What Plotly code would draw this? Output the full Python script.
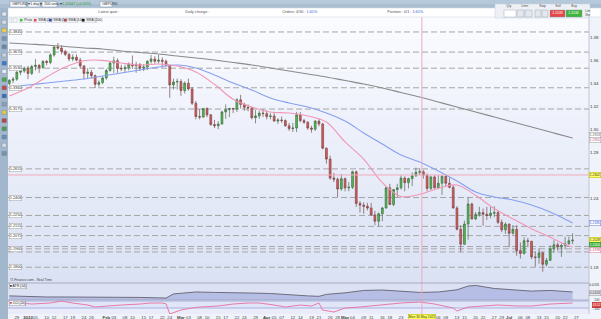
import numpy as np
import plotly.graph_objects as go

# ---------------- data ----------------
dates = ['2021-12-27','2021-12-28','2021-12-29','2021-12-30','2021-12-31',
 '2022-01-03','2022-01-04','2022-01-05','2022-01-06','2022-01-07','2022-01-10','2022-01-11','2022-01-12','2022-01-13','2022-01-14',
 '2022-01-17','2022-01-18','2022-01-19','2022-01-20','2022-01-21','2022-01-24','2022-01-25','2022-01-26','2022-01-27','2022-01-28','2022-01-31',
 '2022-02-01','2022-02-02','2022-02-03','2022-02-04','2022-02-07','2022-02-08','2022-02-09','2022-02-10','2022-02-11','2022-02-14',
 '2022-02-15','2022-02-16','2022-02-17','2022-02-18','2022-02-21','2022-02-22','2022-02-23','2022-02-24','2022-02-25','2022-02-28',
 '2022-03-01','2022-03-02','2022-03-03','2022-03-04','2022-03-07','2022-03-08','2022-03-09','2022-03-10','2022-03-11','2022-03-14',
 '2022-03-15','2022-03-16','2022-03-17','2022-03-18','2022-03-21','2022-03-22','2022-03-23','2022-03-24','2022-03-25','2022-03-28',
 '2022-03-29','2022-03-30','2022-03-31',
 '2022-04-01','2022-04-04','2022-04-05','2022-04-06','2022-04-07','2022-04-08','2022-04-11','2022-04-12','2022-04-13','2022-04-14',
 '2022-04-15','2022-04-18','2022-04-19','2022-04-20','2022-04-21','2022-04-22','2022-04-25','2022-04-26','2022-04-27','2022-04-28','2022-04-29',
 '2022-05-02','2022-05-03','2022-05-04','2022-05-05','2022-05-06','2022-05-09','2022-05-10','2022-05-11','2022-05-12','2022-05-13',
 '2022-05-16','2022-05-17','2022-05-18','2022-05-19','2022-05-20','2022-05-23','2022-05-24','2022-05-25','2022-05-26','2022-05-27',
 '2022-05-30','2022-05-31',
 '2022-06-01','2022-06-02','2022-06-03','2022-06-06','2022-06-07','2022-06-08','2022-06-09','2022-06-10','2022-06-13','2022-06-14',
 '2022-06-15','2022-06-16','2022-06-17','2022-06-20','2022-06-21','2022-06-22','2022-06-23','2022-06-24','2022-06-27','2022-06-28',
 '2022-06-29','2022-06-30',
 '2022-07-01','2022-07-04','2022-07-05','2022-07-06','2022-07-07','2022-07-08','2022-07-11','2022-07-12','2022-07-13','2022-07-14',
 '2022-07-15','2022-07-18','2022-07-19','2022-07-20','2022-07-21','2022-07-22','2022-07-25','2022-07-26']

opens = [1.3395,1.3425,1.3435,1.3495,1.3505,
 1.3530,1.3485,1.3545,1.3555,1.3535,1.3590,1.3580,1.3645,1.3715,1.3705,
 1.3675,1.3650,1.3610,1.3625,1.3600,1.3550,1.3485,1.3495,1.3465,1.3390,1.3405,
 1.3445,1.3510,1.3575,1.3595,1.3530,1.3525,1.3535,1.3565,1.3550,1.3560,
 1.3530,1.3540,1.3590,1.3610,1.3590,1.3600,1.3590,1.3555,1.3385,1.3410,
 1.3415,1.3335,1.3400,1.3350,1.3225,1.3110,1.3105,1.3180,1.3125,1.3040,
 1.3030,1.3045,1.3150,1.3170,1.3180,1.3175,1.3255,1.3215,1.3190,1.3185,
 1.3100,1.3115,1.3140,
 1.3135,1.3110,1.3115,1.3070,1.3080,1.3075,1.3030,1.3005,1.3010,1.3125,
 1.3075,1.3060,1.3010,1.3000,1.3070,1.3045,1.2835,1.2740,1.2575,1.2565,1.2480,
 1.2570,1.2490,1.2495,1.2630,1.2355,1.2340,1.2330,1.2315,1.2255,1.2200,
 1.2265,1.2315,1.2490,1.2345,1.2475,1.2490,1.2575,1.2535,1.2570,1.2595,
 1.2625,1.2630,
 1.2600,1.2485,1.2585,1.2490,1.2530,1.2590,1.2530,1.2495,1.2315,1.2130,
 1.2000,1.2175,1.2350,1.2220,1.2260,1.2275,1.2260,1.2250,1.2270,1.2275,
 1.2190,1.2125,
 1.2175,1.2095,1.2130,1.1945,1.1920,1.2030,1.2025,1.1890,1.1885,1.1925,
 1.1825,1.1860,1.1960,1.1995,1.1975,1.1990,1.2005,1.2030]

highs = [1.3435,1.3455,1.3505,1.3525,1.3545,
 1.3550,1.3560,1.3610,1.3565,1.3600,1.3600,1.3660,1.3720,1.3749,1.3730,
 1.3690,1.3665,1.3650,1.3650,1.3620,1.3555,1.3530,1.3515,1.3475,1.3425,1.3460,
 1.3525,1.3590,1.3630,1.3615,1.3560,1.3560,1.3580,1.3640,1.3585,1.3575,
 1.3565,1.3600,1.3645,1.3635,1.3645,1.3625,1.3605,1.3560,1.3440,1.3440,
 1.3435,1.3415,1.3440,1.3365,1.3245,1.3175,1.3185,1.3190,1.3130,1.3080,
 1.3070,1.3160,1.3215,1.3185,1.3185,1.3270,1.3298,1.3230,1.3215,1.3190,
 1.3165,1.3160,1.3175,
 1.3165,1.3140,1.3150,1.3095,1.3110,1.3085,1.3055,1.3055,1.3150,1.3150,
 1.3090,1.3070,1.3030,1.3080,1.3090,1.3055,1.2840,1.2770,1.2620,1.2580,1.2610,
 1.2580,1.2540,1.2640,1.2640,1.2375,1.2365,1.2360,1.2360,1.2290,1.2275,
 1.2325,1.2500,1.2525,1.2480,1.2525,1.2600,1.2590,1.2580,1.2625,1.2666,
 1.2660,1.2645,
 1.2615,1.2595,1.2600,1.2600,1.2600,1.2600,1.2580,1.2510,1.2330,1.2165,
 1.2205,1.2406,1.2360,1.2280,1.2325,1.2310,1.2325,1.2325,1.2330,1.2290,
 1.2215,1.2190,
 1.2180,1.2165,1.2165,1.2015,1.2060,1.2055,1.2030,1.1935,1.1965,1.1935,
 1.1880,1.1990,1.2035,1.2015,1.2005,1.2065,1.2065,1.2095]

lows = [1.3385,1.3400,1.3420,1.3470,1.3490,
 1.3435,1.3470,1.3510,1.3490,1.3525,1.3555,1.3565,1.3630,1.3690,1.3650,
 1.3635,1.3590,1.3590,1.3590,1.3530,1.3435,1.3445,1.3440,1.3358,1.3370,1.3390,
 1.3430,1.3500,1.3490,1.3490,1.3505,1.3490,1.3510,1.3525,1.3490,1.3505,
 1.3505,1.3515,1.3570,1.3570,1.3570,1.3535,1.3545,1.3272,1.3345,1.3345,
 1.3290,1.3310,1.3335,1.3210,1.3085,1.3085,1.3100,1.3105,1.3030,1.3010,
 1.3000,1.3040,1.3090,1.3105,1.3140,1.3150,1.3180,1.3160,1.3155,1.3085,
 1.3050,1.3090,1.3105,
 1.3085,1.3085,1.3065,1.3045,1.3055,1.3020,1.2985,1.2975,1.2975,1.3060,
 1.3045,1.2995,1.2970,1.2985,1.3025,1.2825,1.2700,1.2560,1.2540,1.2411,1.2465,
 1.2460,1.2460,1.2480,1.2325,1.2275,1.2265,1.2295,1.2250,1.2165,1.2155,
 1.2200,1.2310,1.2340,1.2330,1.2410,1.2475,1.2460,1.2485,1.2505,1.2585,
 1.2600,1.2570,
 1.2460,1.2470,1.2485,1.2485,1.2430,1.2505,1.2485,1.2310,1.2120,1.1933,
 1.1995,1.2040,1.2215,1.2210,1.2240,1.2160,1.2210,1.2225,1.2235,1.2175,
 1.2105,1.2090,
 1.1975,1.2085,1.1900,1.1875,1.1910,1.1975,1.1870,1.1805,1.1830,1.1760,
 1.1805,1.1855,1.1925,1.1945,1.1890,1.1955,1.1995,1.2000]

closes = [1.3425,1.3435,1.3495,1.3505,1.3530,
 1.3485,1.3545,1.3555,1.3535,1.3590,1.3580,1.3645,1.3715,1.3705,1.3675,
 1.3650,1.3610,1.3625,1.3600,1.3550,1.3485,1.3495,1.3465,1.3390,1.3405,1.3445,
 1.3510,1.3575,1.3595,1.3530,1.3525,1.3535,1.3565,1.3550,1.3560,1.3530,
 1.3540,1.3590,1.3610,1.3590,1.3600,1.3590,1.3555,1.3385,1.3410,1.3415,
 1.3335,1.3400,1.3350,1.3225,1.3110,1.3105,1.3180,1.3125,1.3040,1.3030,
 1.3045,1.3150,1.3170,1.3180,1.3175,1.3255,1.3215,1.3190,1.3185,1.3100,
 1.3115,1.3140,1.3135,
 1.3110,1.3115,1.3070,1.3080,1.3075,1.3030,1.3005,1.3010,1.3125,1.3075,
 1.3060,1.3010,1.3000,1.3070,1.3045,1.2835,1.2740,1.2575,1.2565,1.2480,1.2570,
 1.2490,1.2495,1.2630,1.2355,1.2340,1.2330,1.2315,1.2255,1.2200,1.2265,
 1.2315,1.2490,1.2345,1.2475,1.2490,1.2575,1.2535,1.2570,1.2595,1.2625,
 1.2630,1.2600,
 1.2485,1.2585,1.2490,1.2530,1.2590,1.2530,1.2495,1.2315,1.2130,1.2000,
 1.2175,1.2350,1.2220,1.2260,1.2275,1.2260,1.2250,1.2270,1.2275,1.2190,
 1.2125,1.2175,
 1.2095,1.2130,1.1945,1.1920,1.2030,1.2025,1.1890,1.1885,1.1925,1.1825,
 1.1860,1.1960,1.1995,1.1975,1.1990,1.2005,1.2030,1.2035]

ma_dates = ['2021-12-27','2022-01-03','2022-01-10','2022-01-17','2022-01-24','2022-01-31','2022-02-07','2022-02-14',
 '2022-02-21','2022-02-28','2022-03-07','2022-03-14','2022-03-21','2022-03-28','2022-04-04','2022-04-11','2022-04-18',
 '2022-04-25','2022-05-02','2022-05-09','2022-05-16','2022-05-23','2022-05-30','2022-06-06','2022-06-13','2022-06-20',
 '2022-06-27','2022-07-04','2022-07-11','2022-07-18','2022-07-25','2022-07-26']
sma20 = [1.3288,1.3358,1.3454,1.3540,1.3595,1.3598,1.3575,1.3558,1.3567,1.3549,1.3497,1.3390,1.3260,1.3193,1.3149,1.3141,
 1.3115,1.3062,1.2889,1.2740,1.2535,1.2415,1.2435,1.2485,1.2515,1.2425,1.2310,1.2220,1.2135,1.2060,1.1985,1.1978]
sma50 = [1.3367,1.3384,1.3401,1.3419,1.3436,1.3462,1.3488,1.3514,1.3540,1.3558,1.3532,1.3471,1.3401,1.3341,1.3271,1.3228,
 1.3193,1.3141,1.3071,1.2967,1.2871,1.2776,1.2715,1.2637,1.2550,1.2454,1.2411,1.2385,1.2341,1.2280,1.2202,1.2185]
sma200 = [1.3749,1.3740,1.3732,1.3719,1.3706,1.3697,1.3680,1.3667,1.3654,1.3636,1.3619,1.3601,1.3580,1.3558,1.3532,1.3506,
 1.3480,1.3454,1.3423,1.3393,1.3358,1.3319,1.3280,1.3236,1.3193,1.3149,1.3106,1.3062,1.3019,1.2975,1.2932,1.2923]

atr_dates = ['2021-12-27','2022-01-03','2022-01-10','2022-01-17','2022-01-24','2022-01-31','2022-02-07','2022-02-14',
 '2022-02-21','2022-02-23','2022-02-25','2022-02-28','2022-03-07','2022-03-14','2022-03-21','2022-03-28','2022-04-04',
 '2022-04-11','2022-04-18','2022-04-21','2022-04-25','2022-05-02','2022-05-09','2022-05-16','2022-05-23','2022-05-30',
 '2022-06-06','2022-06-13','2022-06-16','2022-06-20','2022-06-27','2022-07-04','2022-07-11','2022-07-18','2022-07-25','2022-07-26']
atr14 = [0.0085,0.0082,0.0080,0.0080,0.0080,0.0080,0.0080,0.0078,0.0076,0.0075,0.0094,0.0096,0.0103,0.0101,0.0098,0.0098,
 0.0096,0.0089,0.0085,0.0083,0.0092,0.0099,0.0110,0.0112,0.0107,0.0101,0.0103,0.0113,0.0130,0.0133,0.0119,0.0112,
 0.0107,0.0110,0.0103,0.0103]

cci_dates = ['2021-12-27','2022-01-04','2022-01-11','2022-01-14','2022-01-19','2022-01-25','2022-01-27','2022-02-01',
 '2022-02-07','2022-02-14','2022-02-17','2022-02-22','2022-02-23','2022-02-24','2022-03-01','2022-03-04','2022-03-08',
 '2022-03-15','2022-03-21','2022-03-25','2022-03-30','2022-04-05','2022-04-08','2022-04-14','2022-04-19','2022-04-21',
 '2022-04-22','2022-04-27','2022-05-02','2022-05-06','2022-05-11','2022-05-17','2022-05-23','2022-05-30','2022-06-03',
 '2022-06-10','2022-06-13','2022-06-16','2022-06-28','2022-07-05','2022-07-11','2022-07-18','2022-07-22','2022-07-26']
cci20 = [71,14,43,100,43,-14,-71,-43,-14,14,43,43,20,-270,-157,-100,-71,-43,14,43,43,-14,-71,-14,-43,43,
 -157,-214,-100,-71,-43,14,43,71,14,-100,-186,-71,-14,-43,-43,14,43,43]

level_prices = [1.3845,1.3670,1.3530,1.3360,1.3175,1.2655,1.2406,1.2250,1.2155,1.2075,1.1980,1.1960,1.1933,1.1800]
label_levels = [1.3845,1.3670,1.3530,1.3360,1.3175,1.2655,1.2406,1.2250,1.2155,1.2075,1.1960,1.1800]
label_texts = ['1.3845','1.3670','1.3530','1.3360','1.3175','1.2655','1.2406','1.2250','1.2155','1.2075','1.1960','1.1800']

# 1.20, 1.22 and 1.26 sit under the value boxes in the reference
price_ticks = [1.18,1.24,1.28,1.30,1.32,1.34,1.36,1.38]
price_tick_text = ['1.18','1.24','1.28','1.30','1.32','1.34','1.36','1.38']

tick_dates = ['2021-12-29','2022-01-03','2022-01-05','2022-01-10','2022-01-12','2022-01-17','2022-01-19','2022-01-24','2022-01-26',
 '2022-02-01','2022-02-03','2022-02-08','2022-02-10','2022-02-15','2022-02-17','2022-02-22','2022-02-24',
 '2022-03-01','2022-03-03','2022-03-08','2022-03-10','2022-03-15','2022-03-17','2022-03-22','2022-03-24','2022-03-29',
 '2022-04-01','2022-04-05','2022-04-07','2022-04-12','2022-04-14','2022-04-19','2022-04-21','2022-04-26','2022-04-28',
 '2022-05-02','2022-05-04','2022-05-09','2022-05-11','2022-05-16','2022-05-18','2022-05-23',
 '2022-06-06','2022-06-08','2022-06-13','2022-06-15','2022-06-20','2022-06-22','2022-06-27','2022-06-29',
 '2022-07-01','2022-07-06','2022-07-08','2022-07-13','2022-07-15','2022-07-20','2022-07-22','2022-07-27']
tick_text = ['29','<b>2022</b>','05','10','12','17','19','24','26',
 '<b>Feb</b>','03','08','10','15','17','22','24',
 '<b>Mar</b>','03','08','10','15','17','22','24','29',
 '<b>Apr</b>','05','07','12','14','19','21','26','28',
 '<b>May</b>','04','09','11','16','18','23',
 '06','08','13','15','20','22','27','29',
 '<b>Jul</b>','06','08','13','15','20','22','27']

crosshair_pos = 105.6
crosshair_price = 1.2602

# ---------------- geometry helpers ----------------
W, H = 601, 319
ML, MR, MT, MB = 8, 12, 17, 5
PW, PH = W - ML - MR, H - MT - MB
def px(x): return (x - ML) / PW
def py(y): return (H - MB - y) / PH
def pp(y): return 1.3749 - (y - 43) / 1151.0   # pixel row -> price (for label placement)

base = np.datetime64('2022-01-03')
def pos(ds):
    return np.busday_count(base, np.array(ds, dtype='datetime64[D]')).astype(float)

FONT = 'Liberation Sans'

fig = go.Figure()
fig.add_trace(go.Candlestick(
    x=pos(dates), open=opens, high=highs, low=lows, close=closes,
    increasing=dict(fillcolor='#3cc63c', line=dict(color='#4f6a4f', width=0.7)),
    decreasing=dict(fillcolor='#e05555', line=dict(color='#7a4c4c', width=0.7)),
    whiskerwidth=0, xaxis='x', yaxis='y', showlegend=False, hoverinfo='skip'))
fig.add_trace(go.Scatter(x=pos(ma_dates), y=sma200, mode='lines', line=dict(color='#8a8a8a', width=1.1, shape='spline'),
                         xaxis='x', yaxis='y', showlegend=False, hoverinfo='skip'))
fig.add_trace(go.Scatter(x=pos(ma_dates), y=sma50, mode='lines', line=dict(color='#86a0ee', width=1.1, shape='spline'),
                         xaxis='x', yaxis='y', showlegend=False, hoverinfo='skip'))
fig.add_trace(go.Scatter(x=pos(ma_dates), y=sma20, mode='lines', line=dict(color='#f296b6', width=1.1, shape='spline'),
                         xaxis='x', yaxis='y', showlegend=False, hoverinfo='skip'))
fig.add_trace(go.Scatter(x=pos(atr_dates), y=atr14, mode='lines', fill='tozeroy', fillcolor='#b6bee6',
                         line=dict(color='#6d6d7c', width=1), xaxis='x', yaxis='y2', showlegend=False, hoverinfo='skip'))
fig.add_trace(go.Scatter(x=pos(cci_dates), y=cci20, mode='lines', line=dict(color='#e87aa8', width=1),
                         xaxis='x', yaxis='y3', showlegend=False, hoverinfo='skip'))

def mix(c1, c2, t):
    a = [int(c1[i:i+2], 16) for i in (1, 3, 5)]
    b = [int(c2[i:i+2], 16) for i in (1, 3, 5)]
    return '#%02x%02x%02x' % tuple(int(round(a[k] + (b[k]-a[k])*t)) for k in range(3))

shapes = []
N = 24
for i in range(N):
    shapes.append(dict(type='rect', xref='x domain', yref='y domain', x0=0, x1=1, y0=i/N, y1=(i+1)/N,
                       fillcolor=mix('#dae1f4', '#fbfcff', (i+0.5)/N), line_width=0, layer='below'))
shapes.append(dict(type='rect', xref='x domain', yref='y2 domain', x0=0, x1=1, y0=0, y1=1,
                   fillcolor='#dde1f4', line_width=0, layer='below'))
shapes.append(dict(type='rect', xref='x domain', yref='y3 domain', x0=0, x1=1, y0=0, y1=1,
                   fillcolor='#eaedf9', line_width=0, layer='below'))
shapes.append(dict(type='rect', xref='x domain', yref='y3', x0=0, x1=1, y0=-100, y1=100,
                   fillcolor='#e1e5f8', line_width=0, layer='below'))
for v in (100, -100):
    shapes.append(dict(type='line', xref='x domain', yref='y3', x0=0, x1=1, y0=v, y1=v,
                       line=dict(color='#99a2da', width=0.8), layer='below'))
for p in level_prices:
    shapes.append(dict(type='line', xref='x domain', yref='y', x0=0, x1=1, y0=p, y1=p,
                       line=dict(color='#a6a6a6', width=1, dash='6px,3px'), layer='below'))
# crosshair
shapes.append(dict(type='line', xref='x', yref='paper', x0=crosshair_pos, x1=crosshair_pos, y0=py(316), y1=1,
                   line=dict(color='#f4a9bc', width=1)))
shapes.append(dict(type='line', xref='x domain', yref='y', x0=0, x1=1, y0=crosshair_price, y1=crosshair_price,
                   line=dict(color='#f4a9bc', width=1)))
# panel separators / borders
for yy in (283, 300):
    shapes.append(dict(type='line', xref='paper', yref='paper', x0=0, x1=1, y0=py(yy), y1=py(yy),
                       line=dict(color='#9aa0b6', width=0.8)))
shapes.append(dict(type='line', xref='paper', yref='paper', x0=1, x1=1, y0=py(314), y1=py(17),
                   line=dict(color='#b4bacb', width=0.8)))
# toolbars
shapes.append(dict(type='rect', xref='paper', yref='paper', x0=px(0), x1=px(601), y0=py(8), y1=py(0),
                   fillcolor='#b6c9da', line_width=0))
shapes.append(dict(type='rect', xref='paper', yref='paper', x0=px(0), x1=px(601), y0=py(8), y1=py(4),
                   fillcolor='#a9bed1', line_width=0))
shapes.append(dict(type='rect', xref='paper', yref='paper', x0=px(8), x1=px(601), y0=py(17), y1=py(8),
                   fillcolor='#ffffff', line=dict(color='#d0d6e0', width=0.6)))
shapes.append(dict(type='rect', xref='paper', yref='paper', x0=px(0), x1=px(8), y0=py(319), y1=py(8),
                   fillcolor='#a2b7cb', line_width=0))
icon_cols = ['#dfe6ee', '#d8dde4', '#f0d040', '#7d94ab', '#6f86a0', '#c8d3de', '#3f78c6', '#e7eef5', '#4da84d',
             '#c04848', '#3a6fb8', '#8aa0b6', '#e2c94a', '#b54444', '#4d9b4d', '#6c8fb5', '#d6dde6', '#7c92a8']
for k, c in enumerate(icon_cols):
    yy = 12 + k * 8.2
    shapes.append(dict(type='rect', xref='paper', yref='paper', x0=px(2), x1=px(6.5), y0=py(yy+4), y1=py(yy),
                       fillcolor=c, line=dict(color='#6e8299', width=0.4)))
# top toolbar widgets
for (x0, x1) in [(10, 26), (28, 40), (42, 57), (100, 112)]:
    shapes.append(dict(type='rect', xref='paper', yref='paper', x0=px(x0), x1=px(x1), y0=py(7), y1=py(1.5),
                       fillcolor='#f6f8fb', line=dict(color='#8796a8', width=0.5)))
# order widget
shapes.append(dict(type='rect', xref='paper', yref='paper', x0=px(495), x1=px(590), y0=py(18), y1=py(4),
                   fillcolor='#edf1f6', line=dict(color='#c3ccd8', width=0.5)))
for (x0, x1, c) in [(504, 516, '#ffffff'), (517, 524, '#e4e8ee'), (525, 532, '#e4e8ee'), (535, 541, '#e4e8ee'),
                    (542, 548, '#e4e8ee'), (550, 565, '#e24848'), (566, 582, '#3fb43f')]:
    shapes.append(dict(type='rect', xref='paper', yref='paper', x0=px(x0), x1=px(x1), y0=py(17), y1=py(10),
                       fillcolor=c, line=dict(color='#8f99a6', width=0.4)))
# legend boxes
for (x0, x1) in [(9, 12), (13, 17), (19, 31), (33, 46), (48, 61), (63, 78), (81, 97)]:
    shapes.append(dict(type='rect', xref='paper', yref='paper', x0=px(x0), x1=px(x1), y0=py(22.5), y1=py(18),
                       fillcolor='#f3f4f7', line=dict(color='#b9bec8', width=0.4)))
for (x0, c) in [(20, '#3cc63c'), (34, '#e04848'), (49, '#3050e0'), (64, '#e04848'), (82, '#111111')]:
    shapes.append(dict(type='rect', xref='paper', yref='paper', x0=px(x0), x1=px(x0+2.5), y0=py(21.5), y1=py(19),
                       fillcolor=c, line_width=0))

anns = []
def ann(x, y, text, size=4, color='#333333', bg=None, border=None, xanchor='left', xref='paper', yref='paper'):
    d = dict(x=x, y=y, xref=xref, yref=yref, text=text, showarrow=False, xanchor=xanchor, yanchor='middle',
             font=dict(size=size, color=color, family=FONT), borderpad=0.3)
    if bg: d['bgcolor'] = bg
    if border:
        d['bordercolor'] = border
        d['borderwidth'] = 0.5
    anns.append(d)

# top toolbar text
ann(px(11), py(4.3), 'GBPUSD ▾', 3.6)
ann(px(29), py(4.3), '1 day ▾', 3.6)
ann(px(43), py(4.3), '200 units ▾', 3.6)
ann(px(61), py(4.3), '1.20347 (+0.05%)', 3.6, '#1f9a1f')
ann(px(101), py(4.3), 'GBPUSD', 3.6)
# info bar
ann(px(97), py(12.5), 'Latest quot :', 3.8, '#555555')
ann(px(184), py(12.5), 'Daily change :', 3.8, '#555555')
ann(px(281), py(12.5), 'Orders: 4/30 : <span style="color:#2a5bd7">1.61%</span>', 3.8, '#555555')
ann(px(386), py(12.5), 'Position : 0/1 : <span style="color:#2a5bd7">1.61%</span>', 3.8, '#555555')
ann(px(505), py(7), 'Qty', 3.2, '#444444')
ann(px(520), py(7), 'Limit', 3.2, '#444444')
ann(px(538), py(7), 'Stop', 3.2, '#444444')
ann(px(554), py(7), 'Sell', 3.2, '#444444')
ann(px(570), py(7), 'Buy', 3.2, '#444444')
ann(px(551), py(13.5), '1.2033', 3.4, '#ffffff')
ann(px(567), py(13.5), '1.2034', 3.4, '#ffffff')
ann(px(584), py(11.5), 'Lim', 3.0, '#444444')
ann(px(584), py(15.5), 'Stp', 3.0, '#444444')
# legend text
ann(px(23), py(20.3), 'Price', 3.4)
ann(px(37), py(20.3), 'SMA (20)', 3.4)
ann(px(52), py(20.3), 'SMA (50)', 3.4)
ann(px(67), py(20.3), 'SMA (100)', 3.4)
ann(px(85), py(20.3), 'SMA (200)', 3.4)
# level labels
for p, t in zip(label_levels, label_texts):
    ann(px(9), p, t, 3.8, '#333333', '#ffffff', '#9a9a9a', yref='y')
# lower panel labels
ann(px(9), py(280.3), 'IT-Finance.com - Real Time', 3.4, '#444444')
ann(px(9), py(286.3), '■ ATR (14)', 3.4, '#222222', '#f3f4f8', '#9a9a9a')
ann(px(9), py(302.8), '<span style="color:#e03030">■</span> CCI (20)', 3.4, '#222222', '#f3f4f8', '#9a9a9a')
# right side value boxes (right-aligned to the window edge)
RX = px(600.6)
ann(RX, pp(135.3), '1.2923', 3.3, '#555555', '#ffffff', '#999999', xanchor='right', yref='y')
ann(RX, pp(140.5), '1.2905', 3.3, '#c05070', '#ffffff', '#999999', xanchor='right', yref='y')
ann(RX, crosshair_price, '1.2602', 3.3, '#333333', '#ffff66', '#b0b000', xanchor='right', yref='y')
ann(RX, pp(223), '1.2185', 3.3, '#2850d0', '#ffffff', '#5577dd', xanchor='right', yref='y')
ann(RX, pp(239.6), '1.2028', 3.3, '#333333', '#ffff66', '#b0b000', xanchor='right', yref='y')
ann(RX, pp(244.8), '1.2004', 3.3, '#ffffff', '#3cb43c', '#2a8a2a', xanchor='right', yref='y')
ann(RX, pp(250.0), '1.1978', 3.3, '#c03060', '#ffffff', '#e07090', xanchor='right', yref='y')
ann(RX, py(285.5), '0.0131', 3.3, '#333333', xanchor='right')
ann(RX, py(292.5), '0.0103', 3.3, '#333333', '#e6e6ee', '#999999', xanchor='right')
ann(RX, py(300.6), '100', 3.0, '#333333', xanchor='right')
ann(RX, py(304.6), '43.52', 3.0, '#ffffff', '#e04040', '#b02020', xanchor='right')
ann(RX, py(309.4), '-100', 3.0, '#333333', xanchor='right')
# crosshair date box
ann(crosshair_pos, py(316.6), 'Mon 30 May 2022', 3.3, '#333333', '#ffff55', '#b0b000', xanchor='center', xref='x')

fig.update_layout(
    width=W, height=H, margin=dict(l=ML, r=MR, t=MT, b=MB, pad=0), template='none',
    paper_bgcolor='#f1f3fa', plot_bgcolor='#e9edf8', showlegend=False,
    font=dict(family=FONT, size=5, color='#333333'),
    xaxis=dict(domain=[0, 1], range=[-5.36, 150.4], anchor='y3', tickvals=pos(tick_dates), ticktext=tick_text,
               tickangle=0, tickfont=dict(size=4.3, color='#444444', family=FONT), showgrid=False, zeroline=False,
               ticks='', showline=False, rangeslider=dict(visible=False), automargin=False, fixedrange=True),
    yaxis=dict(domain=[py(283), 1], range=[1.1663, 1.3975], side='right', anchor='x', tickvals=price_ticks,
               ticktext=price_tick_text, tickfont=dict(size=4.3, color='#333333', family=FONT), showgrid=False,
               zeroline=False, ticks='', showline=False, automargin=False),
    yaxis2=dict(domain=[py(300), py(283)], range=[0.00662, 0.01442], anchor='x', showticklabels=False,
                showgrid=False, zeroline=False, ticks='', automargin=False),
    yaxis3=dict(domain=[0, py(300)], range=[-271, 129], anchor='x', showticklabels=False,
                showgrid=False, zeroline=False, ticks='', automargin=False),
    shapes=shapes, annotations=anns,
)

fig.write_html('out.html')
